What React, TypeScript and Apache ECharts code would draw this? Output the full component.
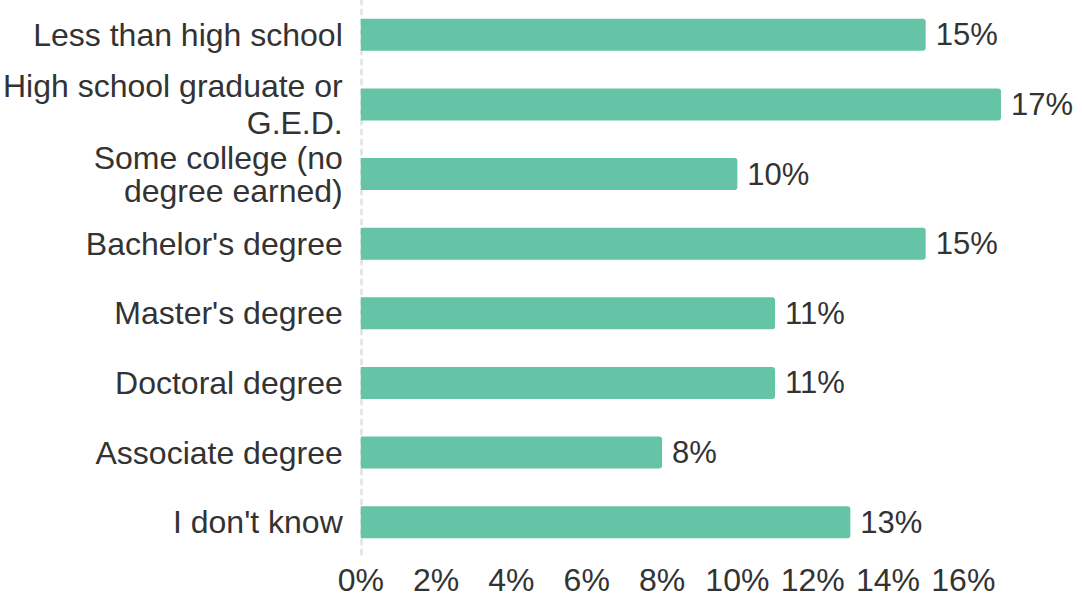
import React, { useEffect, useRef } from "react";
import * as echarts from "echarts";

const categories = [
  "Less than high school",
  "High school graduate or\nG.E.D.",
  "Some college (no\ndegree earned)",
  "Bachelor's degree",
  "Master's degree",
  "Doctoral degree",
  "Associate degree",
  "I don't know",
];
const values = [15, 17, 10, 15, 11, 11, 8, 13];
const axisMax = 17;
const axisInterval = 2;

const FONT = "'Liberation Sans', Arial, sans-serif";
const TEXT = "#333333";

export default function App() {
  const ref = useRef<HTMLDivElement>(null);
  useEffect(() => {
    if (!ref.current) return;
    const chart = echarts.init(ref.current, undefined, { renderer: "svg" });
    const catData = categories.map((c, i) =>
      i === 1
        ? { value: c, textStyle: { lineHeight: 37, padding: [11, 0, 0, 0] } }
        : { value: c }
    );
    chart.setOption({
      animation: false,
      grid: { left: 359, right: 81, top: -3, bottom: 43, containLabel: false },
      xAxis: {
        type: "value",
        min: 0,
        max: axisMax,
        interval: axisInterval,
        splitLine: { show: false },
        axisLine: { show: false },
        axisTick: { show: false },
        axisLabel: {
          showMaxLabel: false,
          formatter: (v: number) => (v % 2 === 0 ? `${v}%` : ""),
          color: TEXT,
          fontFamily: FONT,
          fontSize: 32,
          margin: 7,
        },
      },
      yAxis: {
        type: "category",
        data: catData,
        inverse: true,
        axisTick: { show: false },
        axisLine: {
          show: true,
          lineStyle: { color: "#e6e6e6", width: 3, type: [4, 6] },
        },
        axisLabel: {
          color: TEXT,
          fontFamily: FONT,
          fontSize: 32,
          lineHeight: 33,
          margin: 18,
          align: "right",
        },
      },
      series: [
        {
          type: "bar",
          data: values,
          barWidth: 32,
          itemStyle: { color: "#64c4a5", borderRadius: [0, 3, 3, 0] },
          label: {
            show: true,
            position: "right",
            distance: 10,
            formatter: (p: any) => `${p.value}%`,
            color: TEXT,
            fontFamily: FONT,
            fontSize: 31,
          },
        },
      ],
    });
    return () => chart.dispose();
  }, []);
  return (
    <div
      ref={ref}
      style={{ width: 1082, height: 600, position: "absolute", left: 0, top: 0 }}
    />
  );
}
